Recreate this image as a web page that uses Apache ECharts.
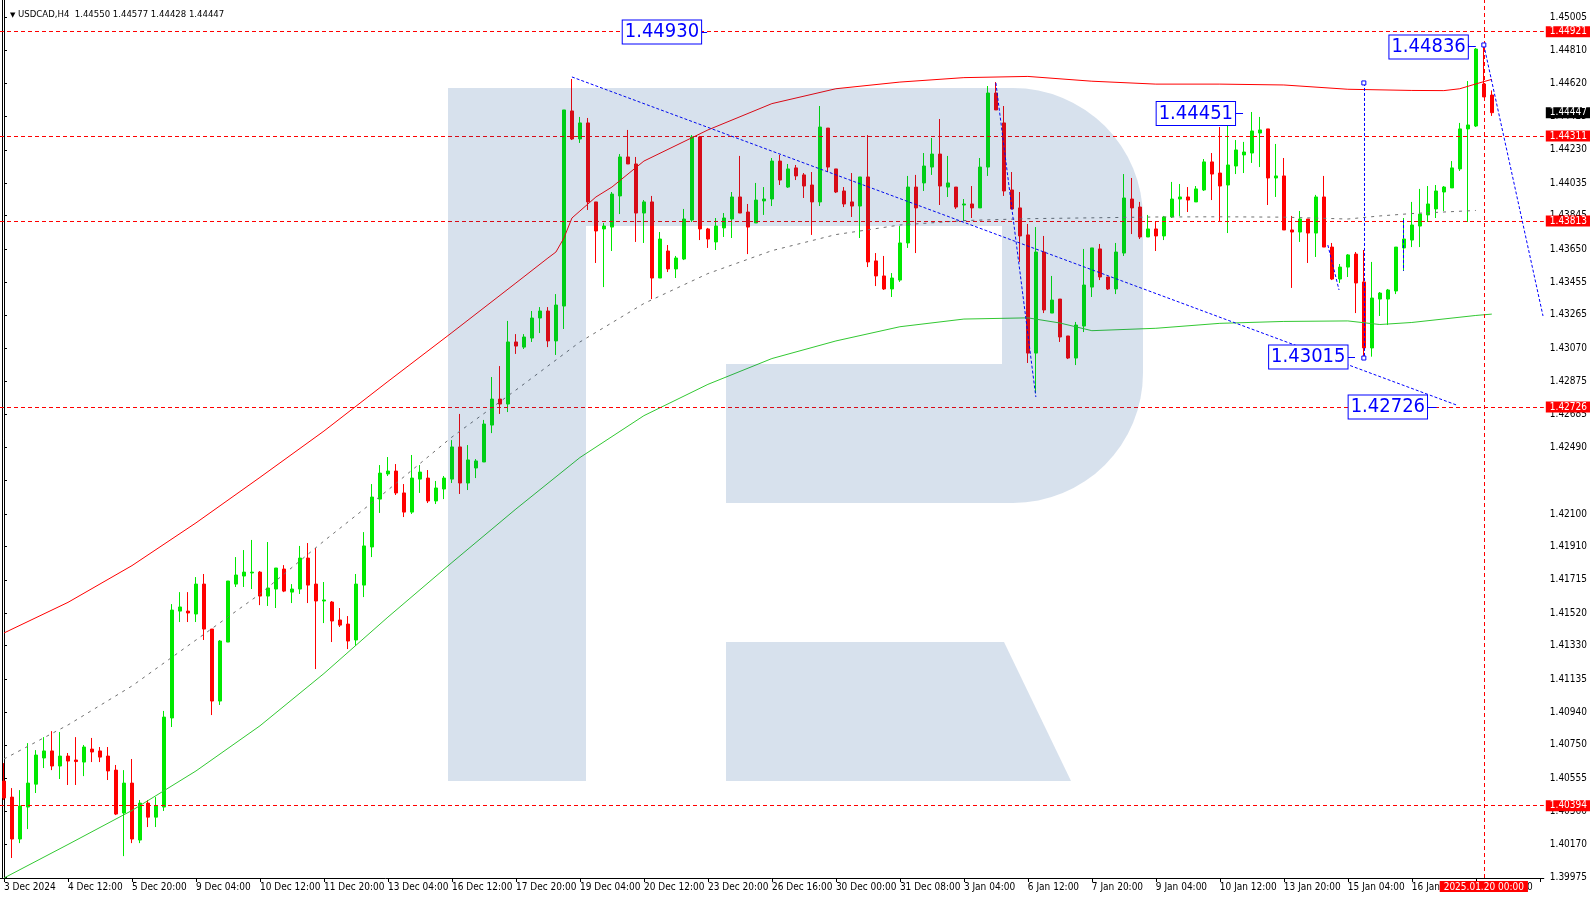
<!DOCTYPE html>
<html><head><meta charset="utf-8">
<script src="https://cdn.jsdelivr.net/npm/echarts@6/dist/echarts.min.js"></script>
<style>html,body{margin:0;padding:0;background:#fff;}#c{width:1590px;height:900px;}</style>
</head><body><div id="c"></div>
<script>
// ---------- data ----------
const symbolName = 'USDCAD,H4';
const xTickLabels = ['3 Dec 2024','4 Dec 12:00','5 Dec 20:00','9 Dec 04:00','10 Dec 12:00','11 Dec 20:00','13 Dec 04:00','16 Dec 12:00','17 Dec 20:00','19 Dec 04:00','20 Dec 12:00','23 Dec 20:00','26 Dec 16:00','30 Dec 00:00','31 Dec 08:00','3 Jan 04:00','6 Jan 12:00','7 Jan 20:00','9 Jan 04:00','10 Jan 12:00','13 Jan 20:00','15 Jan 04:00','16 Jan 12:00','17 Jan 20:00'];
const yTickValues = [1.45005,1.44810,1.44620,1.44425,1.44230,1.44035,1.43845,1.43650,1.43455,1.43265,1.43070,1.42875,1.42685,1.42490,1.42295,1.42100,1.41910,1.41715,1.41520,1.41330,1.41135,1.40940,1.40750,1.40555,1.40360,1.40170,1.39975];
const yUnlabeled = [1.42295];

const opens = [
1.40538,1.40444,1.40199,1.40386,1.40520,1.40673,1.40714,1.40626,1.40684,1.40661,
1.40649,1.40725,1.40714,1.40684,1.40602,1.40351,1.40526,1.40193,1.40409,1.40327,
1.40386,1.40907,1.41532,1.41532,1.41515,1.41690,1.41427,1.41006,1.41351,1.41690,
1.41737,1.41755,1.41760,1.41620,1.41661,1.41778,1.41643,1.41661,1.41842,1.41690,
1.41591,1.41585,1.41480,1.41456,1.41363,1.41684,1.41907,1.42187,1.42334,1.42351,
1.42223,1.42111,1.42304,1.42310,1.42176,1.42246,1.42304,1.42492,1.42281,1.42369,
1.42404,1.42620,1.42772,1.42743,1.43106,1.43076,1.43129,1.43246,1.43287,1.43112,
1.43316,1.44457,1.44293,1.44387,1.43925,1.43767,1.43778,1.43960,1.44188,1.44147,
1.43860,1.43925,1.43480,1.43638,1.43533,1.43591,1.43819,1.44305,1.43767,1.43691,
1.43773,1.43825,1.43954,1.43866,1.43802,1.43931,1.43942,1.44164,1.44012,1.44124,
1.44083,1.44024,1.43925,1.44357,1.44118,1.43989,1.43925,1.43901,1.44071,1.43580,
1.43492,1.43416,1.43468,1.43685,1.44012,1.44036,1.44129,1.44205,1.44012,1.44012,
1.43907,1.43913,1.43890,1.44129,1.44562,1.44387,1.43995,1.43890,1.43732,1.43041,
1.43632,1.43275,1.43357,1.43141,1.43012,1.43199,1.43427,1.43650,1.43486,1.43416,
1.43626,1.43942,1.43895,1.43720,1.43767,1.43726,1.43837,1.43942,1.43954,1.43925,
1.43995,1.44159,1.44094,1.44024,1.44135,1.44200,1.44211,1.44328,1.44352,1.44065,
1.44077,1.43761,1.43749,1.43825,1.43743,1.43954,1.43661,1.43474,1.43544,1.43620,
1.43457,1.43071,1.43357,1.43357,1.43404,1.43656,1.43702,1.43784,1.43849,1.43884,
1.43983,1.44007,1.44118,1.44352,1.44369,1.44615,1.44550];
const highs = [
1.40643,1.40497,1.40485,1.40760,1.40719,1.40795,1.40830,1.40825,1.40702,1.40795,
1.40749,1.40790,1.40737,1.40737,1.40632,1.40602,1.40667,1.40427,1.40427,1.40444,
1.40948,1.41573,1.41643,1.41643,1.41731,1.41749,1.41427,1.41363,1.41708,1.41848,
1.41889,1.41948,1.41766,1.41936,1.41784,1.41801,1.41690,1.41913,1.41930,1.41901,
1.41702,1.41591,1.41550,1.41503,1.41749,1.41994,1.42275,1.42386,1.42433,1.42392,
1.42275,1.42445,1.42386,1.42357,1.42293,1.42322,1.42532,1.42685,1.42503,1.42421,
1.42650,1.42901,1.42965,1.43229,1.43152,1.43152,1.43287,1.43310,1.43310,1.43386,
1.44463,1.44644,1.44422,1.44416,1.43925,1.43802,1.43983,1.44205,1.44346,1.44188,
1.43936,1.43960,1.43749,1.43673,1.43609,1.43884,1.44316,1.44311,1.43773,1.43831,
1.43860,1.43983,1.44194,1.43913,1.44036,1.44012,1.44182,1.44200,1.44147,1.44141,
1.44094,1.44100,1.44486,1.44357,1.44118,1.44012,1.44094,1.44071,1.44316,1.43626,
1.43609,1.43509,1.43784,1.44077,1.44083,1.44211,1.44299,1.44410,1.44194,1.44012,
1.43942,1.44018,1.44182,1.44603,1.44626,1.44486,1.44100,1.43983,1.43796,1.43778,
1.43726,1.43492,1.43357,1.43141,1.43223,1.43650,1.43656,1.43679,1.43486,1.43685,
1.44088,1.44065,1.43925,1.43849,1.43808,1.43843,1.44042,1.44030,1.44012,1.44018,
1.44176,1.44211,1.44363,1.44369,1.44287,1.44276,1.44451,1.44422,1.44352,1.44264,
1.44182,1.43843,1.43872,1.43825,1.43966,1.44077,1.43685,1.43562,1.43620,1.43632,
1.43644,1.43574,1.43398,1.43416,1.43661,1.43831,1.43925,1.44001,1.44018,1.44024,
1.44018,1.44164,1.44387,1.44632,1.44825,1.44836,1.44577];
const lows = [
1.40427,1.40088,1.40175,1.40257,1.40468,1.40614,1.40602,1.40550,1.40515,1.40515,
1.40567,1.40649,1.40649,1.40544,1.40339,1.40099,1.40175,1.40175,1.40269,1.40269,
1.40363,1.40854,1.41468,1.41468,1.41468,1.41363,1.40924,1.40983,1.41351,1.41673,
1.41673,1.41661,1.41567,1.41562,1.41550,1.41643,1.41579,1.41632,1.41579,1.41193,
1.41462,1.41351,1.41439,1.41310,1.41328,1.41614,1.41848,1.42106,1.42322,1.42211,
1.42082,1.42100,1.42223,1.42164,1.42158,1.42187,1.42281,1.42217,1.42240,1.42310,
1.42404,1.42573,1.42685,1.42696,1.43036,1.43065,1.43106,1.43158,1.43076,1.43030,
1.43182,1.44287,1.44270,1.43878,1.43568,1.43427,1.43638,1.43854,1.44147,1.43691,
1.43685,1.43357,1.43480,1.43515,1.43480,1.43585,1.43808,1.43702,1.43656,1.43644,
1.43720,1.43714,1.43860,1.43620,1.43802,1.43849,1.43901,1.44024,1.44007,1.44053,
1.43948,1.43732,1.43901,1.44100,1.43977,1.43895,1.43837,1.43714,1.43544,1.43433,
1.43410,1.43369,1.43457,1.43656,1.43626,1.43989,1.44083,1.43907,1.43954,1.43884,
1.43813,1.43831,1.43890,1.44077,1.44463,1.43960,1.43884,1.43574,1.42983,1.42807,
1.43275,1.43275,1.43106,1.43006,1.42971,1.43164,1.43369,1.43468,1.43410,1.43386,
1.43609,1.43737,1.43708,1.43720,1.43638,1.43702,1.43831,1.43843,1.43866,1.43925,
1.43989,1.43936,1.43813,1.43743,1.44088,1.44094,1.44153,1.44129,1.43907,1.43954,
1.43761,1.43422,1.43691,1.43568,1.43603,1.43661,1.43468,1.43451,1.43486,1.43275,
1.43015,1.43020,1.43258,1.43205,1.43386,1.43521,1.43661,1.43661,1.43808,1.43831,
1.43872,1.44007,1.44106,1.43808,1.44363,1.44539,1.44428];
const closes = [
1.40439,1.40199,1.40392,1.40526,1.40690,1.40714,1.40626,1.40684,1.40655,1.40652,
1.40737,1.40708,1.40678,1.40597,1.40345,1.40526,1.40199,1.40409,1.40327,1.40392,
1.40912,1.41538,1.41556,1.41521,1.41690,1.41427,1.41006,1.41357,1.41708,1.41743,
1.41760,1.41760,1.41620,1.41667,1.41784,1.41649,1.41661,1.41842,1.41684,1.41591,
1.41597,1.41474,1.41450,1.41357,1.41690,1.41913,1.42199,1.42339,1.42351,1.42223,
1.42111,1.42310,1.42345,1.42176,1.42252,1.42310,1.42492,1.42281,1.42416,1.42410,
1.42626,1.42772,1.42743,1.43106,1.43082,1.43135,1.43246,1.43287,1.43112,1.43322,
1.44463,1.44293,1.44387,1.43925,1.43755,1.43784,1.43971,1.44188,1.44147,1.43860,
1.43925,1.43480,1.43708,1.43533,1.43597,1.43825,1.44305,1.43767,1.43708,1.43784,
1.43831,1.43954,1.43860,1.43778,1.43936,1.43942,1.44164,1.44053,1.44118,1.44077,
1.44018,1.43925,1.44363,1.44129,1.43983,1.43913,1.43901,1.44071,1.43574,1.43492,
1.43416,1.43480,1.43685,1.44012,1.43890,1.44135,1.44205,1.44018,1.44036,1.43895,
1.43913,1.43890,1.44129,1.44562,1.44463,1.43989,1.43884,1.43726,1.43041,1.43632,
1.43293,1.43351,1.43135,1.43012,1.43205,1.43439,1.43656,1.43486,1.43416,1.43632,
1.43948,1.43890,1.43720,1.43767,1.43726,1.43837,1.43942,1.43954,1.43936,1.44001,
1.44159,1.44088,1.44018,1.44141,1.44229,1.44217,1.44340,1.44346,1.44065,1.44077,
1.43761,1.43749,1.43825,1.43743,1.43954,1.43661,1.43474,1.43544,1.43615,1.43451,
1.43071,1.43363,1.43392,1.43410,1.43661,1.43708,1.43790,1.43854,1.43913,1.43989,
1.44012,1.44124,1.44352,1.44375,1.44819,1.44539,1.44447];

// moving averages: [bar index, price]
const maRed = [[0,1.41404],[8,1.41583],[16,1.41798],[24,1.42048],[32,1.42314],[40,1.42585],[48,1.42875],[56,1.43161],[64,1.43451],[68,1.43597],[69,1.43632],[70,1.43714],[71,1.43831],[72,1.43872],[74,1.43954],[76,1.44012],[80,1.44164],[88,1.44346],[96,1.44500],[104,1.44587],[112,1.44626],[120,1.44652],[128,1.44659],[136,1.44631],[144,1.44614],[152,1.44614],[160,1.44609],[168,1.44584],[176,1.44577],[180,1.44576],[182,1.44587],[184,1.44615],[186,1.44642]];
const maGreen = [[0,1.39971],[8,1.40167],[16,1.40366],[24,1.40597],[32,1.40861],[40,1.41167],[48,1.41497],[56,1.41816],[64,1.42129],[72,1.42430],[80,1.42675],[88,1.42858],[96,1.43009],[104,1.43112],[112,1.43195],[120,1.43240],[128,1.43247],[132,1.43217],[136,1.43172],[144,1.43186],[152,1.43215],[160,1.43226],[168,1.43229],[172,1.43208],[176,1.43220],[184,1.43261],[186,1.43269]];
const maGray = [[0,1.40667],[8,1.40866],[16,1.41094],[24,1.41363],[32,1.41632],[40,1.41942],[48,1.42240],[56,1.42550],[64,1.42825],[72,1.43106],[80,1.43331],[88,1.43506],[96,1.43640],[104,1.43734],[112,1.43790],[120,1.43816],[128,1.43827],[136,1.43832],[144,1.43837],[152,1.43838],[160,1.43836],[168,1.43825],[172,1.43843],[176,1.43857],[184,1.43875]];

// horizontal levels, time marker
const redLevels = [1.44921, 1.44311, 1.43813, 1.42726, 1.40394];
const timeMarkerIndex = 185;
const timeMarkerLabel = '2025.01.20 00:00';

// blue price notes: text and anchor [bar index, price]
const noteTexts = ['1.44930','1.44836','1.44451','1.43015','1.42726'];
const noteAnchors = [[82.25,1.44919],[178.1,1.44831],[149.0,1.44442],[163.06,1.43018],[173.0,1.42726]];
const noteConnectors = [[[87.1,1.44919],[87.9,1.44919]],[[182.8,1.44837],[184.0,1.44837]],[[153.6,1.44445],[154.9,1.44445]],[[167.7,1.43014],[168.9,1.43014]],[[177.7,1.42726],[179.1,1.42726]]];
const trendLines = [[[71,1.44656],[181.6,1.42737]],[[124,1.44621],[129,1.42784]],[[170,1.44621],[170,1.43012]],[[185,1.44843],[192.4,1.43258]],[[165.5,1.43673],[166.9,1.43410]],[[174.9,1.43819],[174.9,1.43522]]];
const anchorDots = [[182.8,1.44837],[170,1.44621],[170,1.43012],[185,1.44843]];

// ---------- chart ----------
const N_CATS = 193;
const Y_MIN = 1.39971, Y_MAX = 1.45106;
const FONT = "'Liberation Sans Narrow','DejaVu Sans Condensed','Liberation Sans',sans-serif";
const UP = '#00e800', DOWN = '#ff0000', BLUE = '#0000ff';
const WM = 'rgba(5,67,142,0.16)';

const cats = Array.from({length: N_CATS}, (_, i) => 'bar' + i);
const candles = opens.map((o, i) => [o, closes[i], lows[i], highs[i]]);
const last = opens.length - 1;
const titleText = symbolName + '  ' + [opens[last], highs[last], lows[last], closes[last]].map(v => v.toFixed(5)).join(' ');
const currentPrice = closes[last];

const boxLabel = (bg, fg) => ({show: true, position: 'end', distance: 2, backgroundColor: bg, color: fg, padding: [1, 4, 0, 4], fontFamily: FONT, fontSize: 10, lineHeight: 10});

const levelLines = redLevels.map(v => ({yAxis: v, lineStyle: {color: '#ff0000', type: [4, 3], width: 1}, label: Object.assign(boxLabel('#ff0000', '#ffffff'), {formatter: v.toFixed(5)})}));
levelLines.push({xAxis: timeMarkerIndex, lineStyle: {color: '#ff0000', type: [4, 3], width: 1}, label: Object.assign(boxLabel('#ff0000', '#ffffff'), {position: 'start', distance: 3, formatter: timeMarkerLabel})});
levelLines.push({yAxis: currentPrice, lineStyle: {color: 'rgba(0,0,0,0)', width: 1, type: 'solid'}, label: Object.assign(boxLabel('#000000', '#ffffff'), {formatter: currentPrice.toFixed(5)})});

const annoLines = [];
trendLines.forEach(seg => annoLines.push([{coord: seg[0], lineStyle: {color: BLUE, type: [3, 2], width: 1}}, {coord: seg[1]}]));
noteConnectors.forEach(seg => annoLines.push([{coord: seg[0], lineStyle: {color: BLUE, type: 'solid', width: 1}}, {coord: seg[1]}]));

const annoPoints = noteTexts.map((t, k) => ({
  coord: noteAnchors[k], symbol: 'rect', symbolSize: [1, 1], itemStyle: {color: 'rgba(0,0,0,0)'},
  label: {show: true, position: 'inside', formatter: t, color: BLUE, fontFamily: FONT, fontSize: 20, lineHeight: 21,
    backgroundColor: '#ffffff', borderColor: BLUE, borderWidth: 1, padding: [2, 2, 0, 2]}
}));
anchorDots.forEach(c => annoPoints.push({coord: c, symbol: 'rect', symbolSize: 4, itemStyle: {color: '#ffffff', borderColor: BLUE, borderWidth: 1}, label: {show: false}}));

const lineSeries = (name, data, color, type, extra) => Object.assign({
  name, type: 'line', xAxisIndex: 1, yAxisIndex: 0, data, showSymbol: false, symbol: 'none',
  smooth: false, lineStyle: {color, width: 1, type}, silent: true, z: 3
}, extra || {});

const chart = echarts.init(document.getElementById('c'));
chart.setOption({
  animation: false,
  backgroundColor: '#ffffff',
  title: {
    text: '{tri|▼} ' + titleText, left: 5, top: 5,
    textStyle: {fontFamily: FONT, fontSize: 9.5, fontWeight: 'normal', color: '#000',
      rich: {tri: {fontSize: 7, color: '#000', fontFamily: 'DejaVu Sans'}}}
  },
  grid: {left: 0, right: 46, top: 0, bottom: 22, containLabel: false},
  xAxis: [{
    type: 'category', data: cats, boundaryGap: true, gridIndex: 0,
    axisLine: {show: true, lineStyle: {color: '#000', width: 1}},
    axisTick: {show: true, interval: 7, alignWithLabel: true, length: 4, lineStyle: {color: '#000'}},
    axisLabel: {interval: 7, align: 'left', margin: 4, color: '#000', fontFamily: FONT, fontSize: 10,
      formatter: (v, i) => (i % 8 === 0 && xTickLabels[i / 8]) ? xTickLabels[i / 8] : ''},
    splitLine: {show: false}
  }, {
    type: 'value', min: -0.5, max: N_CATS - 0.5, show: false, gridIndex: 0
  }],
  yAxis: [{
    type: 'value', position: 'right', min: Y_MIN, max: Y_MAX, gridIndex: 0,
    axisLine: {show: true, lineStyle: {color: '#000', width: 1}},
    axisTick: {show: true, length: 3, customValues: yTickValues, lineStyle: {color: '#000'}},
    axisLabel: {customValues: yTickValues.filter(v => !yUnlabeled.includes(v)), margin: 6, color: '#000',
      fontFamily: FONT, fontSize: 10, formatter: v => v.toFixed(5)},
    splitLine: {show: false}
  }, {
    type: 'value', position: 'left', offset: -2, min: Y_MIN, max: Y_MAX, gridIndex: 0,
    axisLine: {show: true, lineStyle: {color: '#000', width: 1}},
    axisTick: {show: false}, axisLabel: {show: false}, splitLine: {show: false}
  }],
  series: [
    {
      name: symbolName, type: 'candlestick', xAxisIndex: 0, yAxisIndex: 0, data: candles, barWidth: 4,
      itemStyle: {color: UP, color0: DOWN, borderColor: UP, borderColor0: DOWN, borderColorDoji: UP, borderWidth: 1}
    },
    lineSeries('MA red', maRed, '#ff0000', 'solid', {
      markLine: {silent: true, precision: 5, symbol: ['none', 'none'], animation: false, data: levelLines}
    }),
    lineSeries('MA green', maGreen, '#32c832', 'solid'),
    lineSeries('MA gray', maGray, '#707070', [3, 5], {
      markLine: {silent: true, precision: 5, symbol: ['none', 'none'], animation: false, label: {show: false}, data: annoLines},
      markPoint: {silent: true, animation: false, data: annoPoints}
    })
  ],
  graphic: [
    {type: 'rect', z: 100, silent: true, shape: {x: 448, y: 88, width: 138, height: 693}, style: {fill: WM}},
    {type: 'rect', z: 100, silent: true, shape: {x: 586, y: 88, width: 416, height: 138}, style: {fill: WM}},
    {type: 'rect', z: 100, silent: true, shape: {x: 1002, y: 88, width: 141, height: 415, r: [0, 130, 130, 0]}, style: {fill: WM}},
    {type: 'rect', z: 100, silent: true, shape: {x: 726, y: 364, width: 276, height: 139}, style: {fill: WM}},
    {type: 'polygon', z: 100, silent: true, shape: {points: [[726, 642], [1004, 642], [1071, 781], [726, 781]]}, style: {fill: WM}}
  ]
});
</script>
</body></html>
